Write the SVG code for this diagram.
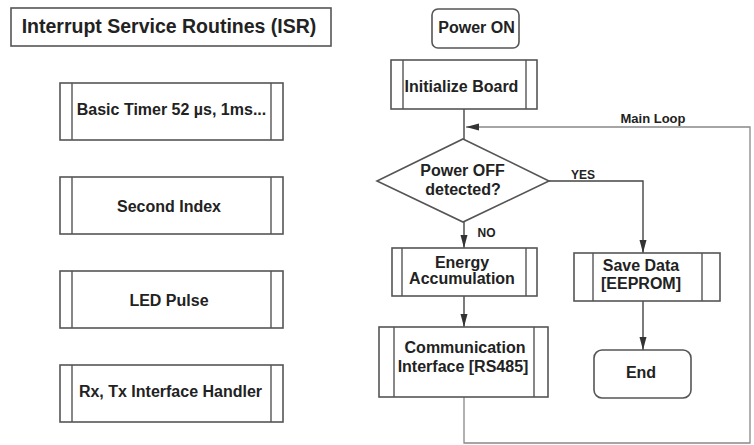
<svg xmlns="http://www.w3.org/2000/svg" width="754" height="445" viewBox="0 0 754 445">
  <defs>
    <marker id="arrow" viewBox="0 0 13 8" refX="13" refY="4" markerWidth="13" markerHeight="8" markerUnits="userSpaceOnUse" orient="auto">
      <path d="M0,0.5 L13,4 L0,7.5 Z" fill="#333"/>
    </marker>
    <style>
      .box { fill: #fff; stroke: #555; stroke-width: 1.6; }
      .bar { stroke: #555; stroke-width: 1.4; fill: none; }
      .lbl { font-family: "Liberation Sans", Arial, sans-serif; font-weight: bold; fill: #222; text-anchor: middle; }
      .t16 { font-size: 16px; }
      .small { font-size: 12px; }
      .flow { stroke: #444; stroke-width: 1.4; fill: none; }
      .loop { stroke: #888; stroke-width: 1.3; fill: none; }
    </style>
  </defs>

  <!-- Left column: ISR list -->
  <g id="isr-title">
    <rect class="box" x="11" y="8" width="320" height="38"/>
    <text class="lbl" x="169" y="33" style="font-size:19.5px">Interrupt Service Routines (ISR)</text>
  </g>

  <g id="isr-timer">
    <rect class="box" x="60" y="83" width="223" height="57"/>
    <line class="bar" x1="72" y1="83" x2="72" y2="140"/>
    <line class="bar" x1="271" y1="83" x2="271" y2="140"/>
    <text class="lbl t16" x="171.5" y="115">Basic Timer 52 µs, 1ms...</text>
  </g>

  <g id="isr-second">
    <rect class="box" x="60" y="177" width="223" height="57"/>
    <line class="bar" x1="72" y1="177" x2="72" y2="234"/>
    <line class="bar" x1="271" y1="177" x2="271" y2="234"/>
    <text class="lbl t16" x="169" y="212">Second Index</text>
  </g>

  <g id="isr-led">
    <rect class="box" x="60" y="271" width="223" height="57"/>
    <line class="bar" x1="72" y1="271" x2="72" y2="328"/>
    <line class="bar" x1="271" y1="271" x2="271" y2="328"/>
    <text class="lbl t16" x="169" y="306">LED Pulse</text>
  </g>

  <g id="isr-rxtx">
    <rect class="box" x="60" y="365" width="223" height="57"/>
    <line class="bar" x1="72" y1="365" x2="72" y2="422"/>
    <line class="bar" x1="271" y1="365" x2="271" y2="422"/>
    <text class="lbl t16" x="170.5" y="397">Rx, Tx Interface Handler</text>
  </g>

  <!-- Connectors -->
  <g id="connectors">
    <line class="flow" x1="464" y1="109" x2="464" y2="139"/>
    <line class="flow" x1="464" y1="222" x2="464" y2="248" marker-end="url(#arrow)"/>
    <polyline class="flow" points="549,181 643,181 643,253" marker-end="url(#arrow)"/>
    <line class="flow" x1="464" y1="296" x2="464" y2="327" marker-end="url(#arrow)"/>
    <line class="flow" x1="643" y1="301" x2="643" y2="350" marker-end="url(#arrow)"/>
    <polyline class="loop" points="464,397 464,443 750,443 750,127 466,127" marker-end="url(#arrow)"/>
    <text class="lbl" x="653" y="123" style="font-size:13px">Main Loop</text>
    <text class="lbl small" x="583" y="179">YES</text>
    <text class="lbl small" x="486.5" y="237">NO</text>
  </g>

  <!-- Right column: main flow -->
  <g id="power-on">
    <rect class="box" x="432" y="9" width="87" height="39" rx="6"/>
    <text class="lbl t16" x="476.5" y="33">Power ON</text>
  </g>

  <g id="init-board">
    <rect class="box" x="391" y="60" width="146" height="49"/>
    <line class="bar" x1="403" y1="60" x2="403" y2="109"/>
    <line class="bar" x1="526" y1="60" x2="526" y2="109"/>
    <text class="lbl t16" x="461.5" y="92">Initialize Board</text>
  </g>

  <g id="power-off">
    <polygon class="box" points="463,139 549,181 463,222 377,181"/>
    <text class="lbl t16" x="462.5" y="176">Power OFF</text>
    <text class="lbl t16" x="463" y="195">detected?</text>
  </g>

  <g id="energy">
    <rect class="box" x="392" y="248" width="145" height="48"/>
    <line class="bar" x1="402" y1="248" x2="402" y2="296"/>
    <line class="bar" x1="526" y1="248" x2="526" y2="296"/>
    <text class="lbl t16" x="462" y="268">Energy</text>
    <text class="lbl t16" x="462" y="284">Accumulation</text>
  </g>

  <g id="save-data">
    <rect class="box" x="574" y="253" width="146" height="48"/>
    <line class="bar" x1="593" y1="253" x2="593" y2="301"/>
    <line class="bar" x1="702" y1="253" x2="702" y2="301"/>
    <text class="lbl t16" x="641" y="271">Save Data</text>
    <text class="lbl t16" x="641" y="289">[EEPROM]</text>
  </g>

  <g id="comm">
    <rect class="box" x="379" y="327" width="169" height="70"/>
    <line class="bar" x1="394" y1="327" x2="394" y2="397"/>
    <line class="bar" x1="534" y1="327" x2="534" y2="397"/>
    <text class="lbl t16" x="465" y="353">Communication</text>
    <text class="lbl t16" x="463" y="372">Interface [RS485]</text>
  </g>

  <g id="end">
    <rect class="box" x="594" y="350" width="97" height="48" rx="8"/>
    <text class="lbl t16" x="641" y="378">End</text>
  </g>
</svg>
